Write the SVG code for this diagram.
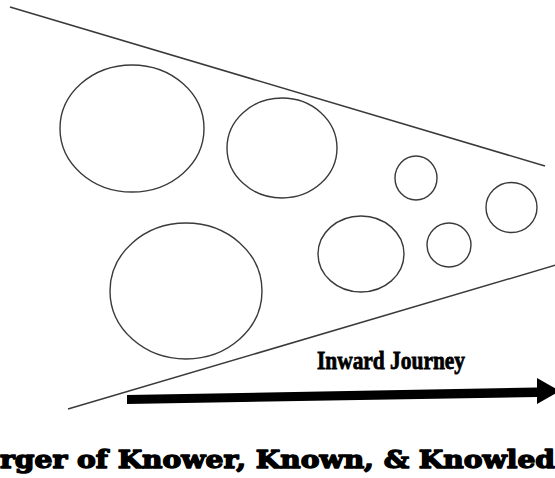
<svg xmlns="http://www.w3.org/2000/svg" width="555" height="478" viewBox="0 0 555 478">
<style>
.c{fill:none;stroke:#3a3a3a;stroke-width:1.4}
.b{fill:none;stroke:#3a3a3a;stroke-width:1.5}
.t1{font-family:"Liberation Serif","DejaVu Serif",serif;font-weight:bold;font-size:26px;fill:#000;stroke:#000;stroke-width:0.8}
.t2{font-family:"DejaVu Serif","Liberation Serif",serif;font-weight:900;font-size:24px;fill:#000;stroke:#000;stroke-width:1.4;stroke-linejoin:round}
</style>
<rect width="555" height="478" fill="#fff"/>
<g id="funnel">
<line class="b" x1="10" y1="7" x2="545" y2="166"/>
<line class="b" x1="68" y1="409" x2="556" y2="265"/>
</g>
<g id="circle1"><ellipse class="c" cx="132" cy="128.5" rx="72" ry="63.5"/></g>
<g id="circle2"><ellipse class="c" cx="282" cy="148" rx="55" ry="50"/></g>
<g id="circle3"><ellipse class="c" cx="186" cy="291" rx="76" ry="68"/></g>
<g id="circle4"><ellipse class="c" cx="361" cy="254" rx="43" ry="38"/></g>
<g id="circle5"><ellipse class="c" cx="416" cy="178" rx="21" ry="22"/></g>
<g id="circle6"><ellipse class="c" cx="449" cy="245" rx="22" ry="22"/></g>
<g id="circle7"><ellipse class="c" cx="511.5" cy="207.5" rx="25.5" ry="25"/></g>
<g id="connectors">
<polygon points="127,395 537,387.5 537,378 560,391 537,404 537,397 127,404" fill="#000"/>
</g>
<text class="t1" x="317" y="369" textLength="148" lengthAdjust="spacingAndGlyphs">Inward Journey</text>
<text class="t2" x="0" y="468" textLength="555" lengthAdjust="spacingAndGlyphs">rger of Knower, Known, &amp; Knowled</text>
</svg>
